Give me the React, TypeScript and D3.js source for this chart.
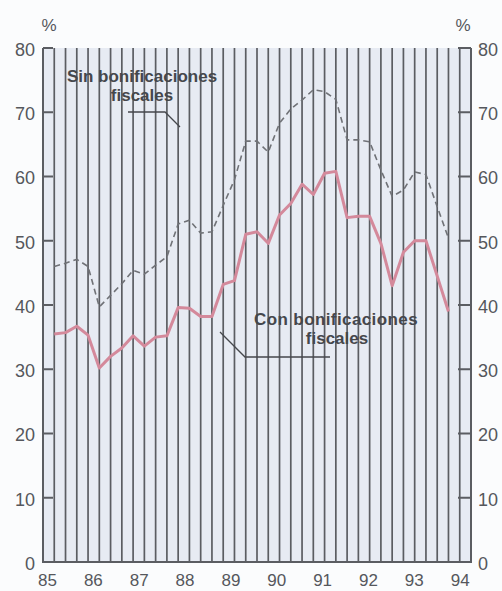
import React from 'react';
import * as d3 from 'd3';

const years = ['85', '86', '87', '88', '89', '90', '91', '92', '93', '94'];
const yTicks = [0, 10, 20, 30, 40, 50, 60, 70, 80];

// quarterly values, 1985Q1 .. 1993Q4
const conValues = [
  35.5, 35.7, 36.7, 35.3, 30.2, 32.0, 33.3, 35.2, 33.6, 35.0, 35.2, 39.6,
  39.5, 38.2, 38.2, 43.2, 43.8, 51.0, 51.4, 49.6, 54.0, 55.8, 58.8, 57.2,
  60.5, 60.8, 53.6, 53.8, 53.8, 49.6, 43.0, 48.2, 50.0, 50.0, 44.5, 39.0,
];
const sinValues = [
  46.0, 46.5, 47.1, 46.0, 39.7, 41.5, 43.3, 45.4, 44.8, 46.2, 47.5, 52.6,
  53.2, 51.2, 51.4, 55.5, 59.5, 65.5, 65.5, 63.8, 68.3, 70.5, 71.9, 73.5,
  73.2, 72.0, 65.7, 65.7, 65.4, 61.0, 56.9, 57.9, 60.7, 60.3, 55.3, 50.4,
];

const FONT = '"Liberation Sans", Arial, sans-serif';

export default function App() {
  const W = 502;
  const H = 591;
  const left = 43;
  const right = 471;
  const top = 48;
  const bottom = 562;

  const x = d3.scaleLinear().domain([-1, 37]).range([left, right]);
  const y = d3.scaleLinear().domain([0, 80]).range([bottom, top]);
  const gridQ = d3.range(0, 37);

  const line = d3
    .line<number>()
    .x((_, i) => x(i))
    .y((d) => y(d));

  const axisColor = '#5b5d62';
  const textColor = '#55575c';
  const annColor = '#45474c';

  return (
    <svg
      width={W}
      height={H}
      style={{ position: 'absolute', left: 0, top: 0, background: '#fbfcfd' }}
    >
      <rect x={left} y={top} width={right - left} height={bottom - top} fill="#e7ebf3" />
      {gridQ.map((q) => (
        <line
          key={q}
          x1={x(q)}
          x2={x(q)}
          y1={top}
          y2={bottom}
          stroke={axisColor}
          strokeWidth={1.7}
        />
      ))}
      {/* axes */}
      <line x1={left} x2={left} y1={top} y2={bottom} stroke={axisColor} strokeWidth={2} />
      <line x1={right} x2={right} y1={top} y2={bottom} stroke={axisColor} strokeWidth={2} />
      <line x1={left - 1} x2={right + 1} y1={bottom} y2={bottom} stroke={axisColor} strokeWidth={2} />
      {yTicks.map((t) => (
        <g key={t}>
          {t > 0 && (
            <>
              <line x1={left} x2={left + 10} y1={y(t)} y2={y(t)} stroke={axisColor} strokeWidth={2} />
              <line x1={right - 13} x2={right} y1={y(t)} y2={y(t)} stroke={axisColor} strokeWidth={2} />
            </>
          )}
          <text
            x={35}
            y={y(t) + 3}
            textAnchor="end"
            dominantBaseline="middle"
            fontFamily={FONT}
            fontSize={18}
            fill={textColor}
          >
            {t}
          </text>
          <text
            x={478}
            y={y(t) + 3}
            textAnchor="start"
            dominantBaseline="middle"
            fontFamily={FONT}
            fontSize={18}
            fill={textColor}
          >
            {t}
          </text>
        </g>
      ))}
      <text x={49} y={31} textAnchor="middle" fontFamily={FONT} fontSize={17} fill={textColor}>
        %
      </text>
      <text x={463} y={31} textAnchor="middle" fontFamily={FONT} fontSize={17} fill={textColor}>
        %
      </text>
      {years.map((yr, i) => (
        <text
          key={yr}
          x={x(4 * i - 0.6) + i * 0.8}
          y={586}
          textAnchor="middle"
          fontFamily={FONT}
          fontSize={17}
          fill={textColor}
        >
          {yr}
        </text>
      ))}
      {/* series */}
      <path
        d={line(sinValues) || ''}
        fill="none"
        stroke="#707277"
        strokeWidth={1.6}
        strokeDasharray="6 4"
      />
      <path
        d={line(conValues) || ''}
        fill="none"
        stroke="#d4899b"
        strokeWidth={3}
        strokeLinejoin="round"
      />
      {/* annotations */}
      <text x={142} y={82} textAnchor="middle" fontFamily={FONT} fontWeight="bold" fontSize={17} fill={annColor}>
        Sin bonificaciones
      </text>
      <text x={142} y={101} textAnchor="middle" fontFamily={FONT} fontWeight="bold" fontSize={17} fill={annColor}>
        fiscales
      </text>
      <polyline points="128,112 165,112 180,127" fill="none" stroke={annColor} strokeWidth={1.3} />
      <text x={336} y={325} textAnchor="middle" fontFamily={FONT} fontWeight="bold" fontSize={17} letterSpacing={0.4} fill={annColor}>
        Con bonificaciones
      </text>
      <text x={337} y={344} textAnchor="middle" fontFamily={FONT} fontWeight="bold" fontSize={17} fill={annColor}>
        fiscales
      </text>
      <polyline points="220,332 245,357 330,357" fill="none" stroke={annColor} strokeWidth={1.3} />
    </svg>
  );
}
